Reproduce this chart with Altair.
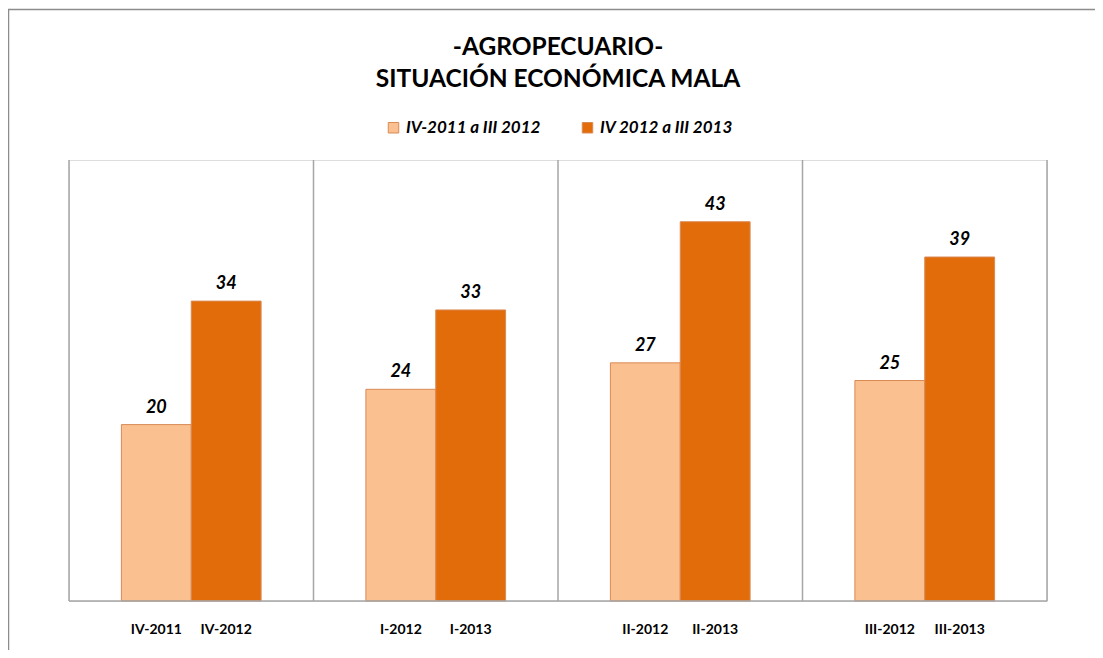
import altair as alt
import pandas as pd

# ---- data ----
grupos = ["IV", "I", "II", "III"]
series = ["IV-2011 a III 2012", "IV 2012 a III 2013"]
valores_prev = [20, 24, 27, 25]
valores_curr = [34, 33, 43, 39]
etiquetas_prev = ["IV-2011", "I-2012", "II-2012", "III-2012"]
etiquetas_curr = ["IV-2012", "I-2013", "II-2013", "III-2013"]
titulo = ["-AGROPECUARIO-", "SITUACIÓN ECONÓMICA MALA"]
colores = ["#FAC090", "#E36C0A"]

rows = []
for i, g in enumerate(grupos):
    rows.append({"grupo": g, "serie": series[0], "valor": valores_prev[i], "etiqueta": etiquetas_prev[i]})
    rows.append({"grupo": g, "serie": series[1], "valor": valores_curr[i], "etiqueta": etiquetas_curr[i]})
df = pd.DataFrame(rows)
df_groups = pd.DataFrame({"grupo": grupos})

W, H = 978, 441
FONT = "Lato"

xenc = alt.X("grupo:N", sort=grupos, scale=alt.Scale(paddingInner=0, paddingOuter=0), axis=None)
xoff = alt.XOffset("serie:N", sort=series, scale=alt.Scale(paddingInner=0, paddingOuter=0.75))
yenc = alt.Y("valor:Q", scale=alt.Scale(domain=[0, 50]), axis=None)

base = alt.Chart(df)

bars = base.mark_bar(stroke="#D98A55", strokeWidth=1).encode(
    x=xenc, xOffset=xoff, y=yenc,
    color=alt.Color("serie:N", sort=series,
                    scale=alt.Scale(domain=series, range=colores),
                    legend=alt.Legend(title=None, orient="none", direction="horizontal",
                                      legendX=316, legendY=-41,
                                      symbolType="square", symbolSize=110,
                                      symbolStrokeColor="#D98A55", symbolStrokeWidth=1,
                                      symbolOpacity=1,
                                      labelFont=FONT, labelFontSize=17, labelFontWeight="bold",
                                      labelFontStyle="italic", labelColor="#000000",
                                      columnPadding=38, labelOffset=4)),
)

vals = base.mark_text(font=FONT, fontSize=18, fontWeight="bold", fontStyle="italic",
                      baseline="alphabetic", dy=-12, color="#000000").encode(
    x=xenc, xOffset=xoff, y=yenc, text="valor:Q")

cats = base.mark_text(font=FONT, fontSize=14, fontWeight="bold",
                      baseline="alphabetic", color="#000000").encode(
    x=xenc, xOffset=xoff, y=alt.value(H + 33), text="etiqueta:N")

seps = alt.Chart(df_groups).mark_rule(color="#A6A6A6", strokeWidth=1.5).encode(
    x=alt.X("grupo:N", sort=grupos, bandPosition=0,
            scale=alt.Scale(paddingInner=0, paddingOuter=0), axis=None),
    y=alt.value(0), y2=alt.value(H))

right_edge = alt.Chart(alt.Data(values=[{}])).mark_rule(color="#A6A6A6", strokeWidth=1.5).encode(
    x=alt.value(W), y=alt.value(0), y2=alt.value(H))

bottom = alt.Chart(alt.Data(values=[{}])).mark_rule(color="#A6A6A6", strokeWidth=1.5).encode(
    x=alt.value(0), x2=alt.value(W), y=alt.value(H))

# outer chart border (only left and top edges are visible in the reference)
frame_left = alt.Chart(alt.Data(values=[{}])).mark_rule(color="#8C8C8C", strokeWidth=1.5).encode(
    x=alt.value(-60.5), y=alt.value(-151), y2=alt.value(H + 49))
frame_top = alt.Chart(alt.Data(values=[{}])).mark_rule(color="#8C8C8C", strokeWidth=1.5).encode(
    x=alt.value(-61), x2=alt.value(W + 48), y=alt.value(-150.5))

title1 = alt.Chart(alt.Data(values=[{}])).mark_text(
    text=titulo[0], font=FONT, fontSize=24.5, fontWeight="bold", color="#000000",
    align="center", baseline="alphabetic").encode(x=alt.value(W / 2), y=alt.value(-105))
title2 = alt.Chart(alt.Data(values=[{}])).mark_text(
    text=titulo[1], font=FONT, fontSize=24.5, fontWeight="bold", color="#000000",
    align="center", baseline="alphabetic").encode(x=alt.value(W / 2), y=alt.value(-73))

chart = alt.layer(seps, right_edge, bars, bottom, vals, cats,
                  frame_left, frame_top, title1, title2).properties(
    width=W, height=H,
    autosize=alt.AutoSizeParams(type="none"),
    padding={"left": 61, "top": 152, "right": 48, "bottom": 49},
).configure_view(fill="#FCEDE9", stroke=None).configure(background="#FFFFFF")

chart.save("out.html", embed_options={"renderer": "svg", "actions": False})
